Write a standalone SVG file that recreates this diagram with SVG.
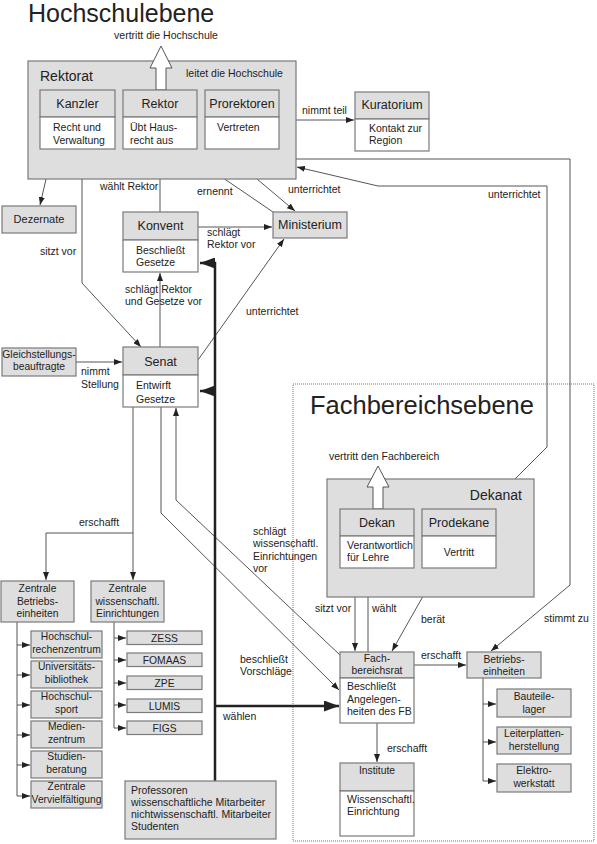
<svg xmlns="http://www.w3.org/2000/svg" width="597" height="844" viewBox="0 0 597 844">
<defs>
<style>
.g{fill:#dedede;stroke:#7a7a7a;stroke-width:1.2}
.w{fill:#fff;stroke:#7a7a7a;stroke-width:1.2}
text{font-family:"Liberation Sans",Arial,sans-serif;fill:#222}
.h{font-size:12.5px;text-anchor:middle}
.b{font-size:10.5px}
.s{font-size:10.3px;text-anchor:middle}
.c{text-anchor:middle}
.ln{fill:none;stroke:#555;stroke-width:1}
.tk{fill:none;stroke:#222;stroke-width:2.5}
.ha{fill:#fff;stroke:#555;stroke-width:1}
</style>
<marker id="a" markerUnits="userSpaceOnUse" markerWidth="8" markerHeight="6" refX="8" refY="3" orient="auto"><path d="M0,0L8,3L0,6z" fill="#222"/></marker>
<marker id="B" markerUnits="userSpaceOnUse" markerWidth="15" markerHeight="11" refX="15" refY="5.5" orient="auto"><path d="M0,0L15,5.5L0,11z" fill="#222"/></marker>
</defs>

<text x="28" y="22" font-size="25">Hochschulebene</text>
<text x="310" y="414" font-size="25.5">Fachbereichsebene</text>
<rect x="293" y="384" width="301" height="457" fill="none" stroke="#777" stroke-width="1" stroke-dasharray="1,1"/>

<g id="connectors">
<path class="ln" d="M296,120H354" marker-end="url(#a)"/>
<path class="ln" d="M53,149L40,205" marker-end="url(#a)"/>
<path class="ln" d="M160,212V150" marker-end="url(#a)"/>
<path class="ln" d="M273,212L182,150" marker-end="url(#a)"/>
<path class="ln" d="M257,179L295,211" marker-end="url(#a)"/>
<path class="ln" d="M82,179V283L141,347" marker-end="url(#a)"/>
<path class="ln" d="M198,227H272" marker-end="url(#a)"/>
<path class="ln" d="M160,347V273" marker-end="url(#a)"/>
<path class="ln" d="M198,360L284,239" marker-end="url(#a)"/>
<path class="ln" d="M76,362H122" marker-end="url(#a)"/>
<path class="ln" d="M133,407V580" marker-end="url(#a)"/>
<path class="ln" d="M133,533H46V580" marker-end="url(#a)"/>
<path class="ln" d="M161,407V513L339,690" marker-end="url(#a)"/>
<path class="ln" d="M340,655L176,500V408" marker-end="url(#a)"/>
<path class="tk" d="M215,781V263H200" marker-end="url(#B)"/>
<path class="tk" d="M215,391H200" marker-end="url(#B)"/>
<path class="tk" d="M215,706H339" marker-end="url(#B)"/>
<path class="ln" d="M515,479L547,447V186H378L297,167" marker-end="url(#a)"/>
<path class="ln" d="M296,159H570V585L491,651" marker-end="url(#a)"/>
<path class="ln" d="M355,568V651" marker-end="url(#a)"/>
<path class="ln" d="M368,652V569" marker-end="url(#a)"/>
<path class="ln" d="M439,568L392,651" marker-end="url(#a)"/>
<path class="ln" d="M414,665H466" marker-end="url(#a)"/>
<path class="ln" d="M377,723V762" marker-end="url(#a)"/>
<path class="ln" d="M483,678V781H496" marker-end="url(#a)"/>
<path class="ln" d="M483,704H496" marker-end="url(#a)"/>
<path class="ln" d="M483,742H496" marker-end="url(#a)"/>
<path class="ln" d="M17,622V796H30" marker-end="url(#a)"/>
<path class="ln" d="M17,645H30" marker-end="url(#a)"/>
<path class="ln" d="M17,675H30" marker-end="url(#a)"/>
<path class="ln" d="M17,705H30" marker-end="url(#a)"/>
<path class="ln" d="M17,735H30" marker-end="url(#a)"/>
<path class="ln" d="M17,765H30" marker-end="url(#a)"/>
<path class="ln" d="M114,622V728H126" marker-end="url(#a)"/>
<path class="ln" d="M114,638H126" marker-end="url(#a)"/>
<path class="ln" d="M114,660H126" marker-end="url(#a)"/>
<path class="ln" d="M114,683H126" marker-end="url(#a)"/>
<path class="ln" d="M114,705H126" marker-end="url(#a)"/>
<g class="b">
<text x="100" y="190">wählt Rektor</text>
<text x="197" y="195">ernennt</text>
<text x="288" y="193">unterrichtet</text>
<text x="40" y="255">sitzt vor</text>
<text x="207" y="236">schlägt</text>
<text x="207" y="248">Rektor vor</text>
<text x="125" y="293">schlägt Rektor</text>
<text x="125" y="305">und Gesetze vor</text>
<text x="246" y="315">unterrichtet</text>
<text x="81" y="375">nimmt</text>
<text x="81" y="388">Stellung</text>
<text x="79" y="526">erschafft</text>
<text x="253" y="535">schlägt</text>
<text x="253" y="547">wissenschaftl.</text>
<text x="253" y="560">Einrichtungen</text>
<text x="253" y="572">vor</text>
<text x="240" y="663">beschließt</text>
<text x="240" y="675">Vorschläge</text>
<text x="223" y="720">wählen</text>
<text x="488" y="198">unterrichtet</text>
<text x="302" y="114">nimmt teil</text>
<text x="315" y="612">sitzt vor</text>
<text x="372" y="612">wählt</text>
<text x="421" y="623">berät</text>
<text x="544" y="622">stimmt zu</text>
<text x="421" y="659">erschafft</text>
<text x="387" y="752">erschafft</text>
</g>
</g>

<g id="rektorat">
<rect class="g" x="28" y="61" width="268" height="118"/>
<text x="40" y="81" font-size="14">Rektorat</text>
<text class="b" x="186" y="77">leitet die Hochschule</text>
<polygon class="ha" points="156,90 156,68 150,68 161,46 172,68 166,68 166,90"/>
<text class="b c" x="166" y="39">vertritt die Hochschule</text>
</g>
<g id="kanzler">
<rect class="g" x="40" y="90" width="75" height="27"/><rect class="w" x="40" y="117" width="75" height="32"/>
<text class="h" x="77.5" y="108">Kanzler</text>
<text class="b" x="53" y="131">Recht und</text><text class="b" x="53" y="144">Verwaltung</text>
</g>
<g id="rektor">
<rect class="g" x="123" y="90" width="74" height="27"/><rect class="w" x="123" y="117" width="74" height="32"/>
<text class="h" x="160" y="108">Rektor</text>
<text class="b" x="130" y="131">Übt Haus-</text><text class="b" x="130" y="144">recht aus</text>
</g>
<g id="prorektoren">
<rect class="g" x="205" y="90" width="74" height="27"/><rect class="w" x="205" y="117" width="74" height="32"/>
<text class="h" x="242" y="108">Prorektoren</text>
<text class="b" x="217" y="131">Vertreten</text>
</g>
<g id="kuratorium">
<rect class="g" x="355" y="92" width="74" height="27"/><rect class="w" x="355" y="119" width="74" height="32"/>
<text class="h" x="392" y="109">Kuratorium</text>
<text class="b" x="369" y="132">Kontakt zur</text><text class="b" x="369" y="144">Region</text>
</g>
<g id="dezernate">
<rect class="g" x="2" y="206" width="74" height="27"/>
<text class="c" x="39" y="223" font-size="11">Dezernate</text>
</g>
<g id="konvent">
<rect class="g" x="123" y="212" width="75" height="28"/><rect class="w" x="123" y="240" width="75" height="32"/>
<text class="h" x="160.5" y="230">Konvent</text>
<text class="b" x="136" y="254">Beschließt</text><text class="b" x="136" y="266">Gesetze</text>
</g>
<g id="ministerium">
<rect class="g" x="273" y="212" width="74" height="26"/>
<text class="h" x="310" y="229">Ministerium</text>
</g>
<g id="senat">
<rect class="g" x="123" y="347" width="75" height="28"/><rect class="w" x="123" y="375" width="75" height="32"/>
<text class="h" x="160.5" y="366">Senat</text>
<text class="b" x="136" y="389">Entwirft</text><text class="b" x="136" y="403">Gesetze</text>
</g>
<g id="gleichstellung">
<rect class="g" x="2" y="348" width="74" height="28"/>
<text class="s" x="39" y="358">Gleichstellungs-</text><text class="s" x="39" y="370">beauftragte</text>
</g>
<g id="zbe">
<rect class="g" x="1" y="581" width="73" height="41"/>
<text class="s" x="37.5" y="592">Zentrale</text><text class="s" x="37.5" y="605">Betriebs-</text><text class="s" x="37.5" y="617">einheiten</text>
</g>
<g id="zwe">
<rect class="g" x="91" y="581" width="73" height="41"/>
<text class="s" x="127.5" y="592">Zentrale</text><text class="s" x="127.5" y="605">wissenschaftl.</text><text class="s" x="127.5" y="617">Einrichtungen</text>
</g>
<g id="hrz"><rect class="g" x="31" y="631" width="71" height="27"/><text class="s" x="66.5" y="640">Hochschul-</text><text class="s" x="66.5" y="653">rechenzentrum</text></g>
<g id="ub"><rect class="g" x="31" y="661" width="71" height="27"/><text class="s" x="66.5" y="670">Universitäts-</text><text class="s" x="66.5" y="683">bibliothek</text></g>
<g id="hsport"><rect class="g" x="31" y="691" width="71" height="27"/><text class="s" x="66.5" y="700">Hochschul-</text><text class="s" x="66.5" y="713">sport</text></g>
<g id="medien"><rect class="g" x="31" y="721" width="71" height="27"/><text class="s" x="66.5" y="730">Medien-</text><text class="s" x="66.5" y="743">zentrum</text></g>
<g id="studien"><rect class="g" x="31" y="751" width="71" height="27"/><text class="s" x="66.5" y="760">Studien-</text><text class="s" x="66.5" y="773">beratung</text></g>
<g id="zv"><rect class="g" x="31" y="781" width="71" height="27"/><text class="s" x="66.5" y="790">Zentrale</text><text class="s" x="66.5" y="803" font-size="10px">Vervielfältigung</text></g>
<g id="zess"><rect class="g" x="127" y="631" width="75" height="13.5"/><text class="s" x="164.5" y="642">ZESS</text></g>
<g id="fomaas"><rect class="g" x="127" y="653" width="75" height="13.5"/><text class="s" x="164.5" y="664">FOMAAS</text></g>
<g id="zpe"><rect class="g" x="127" y="676" width="75" height="13.5"/><text class="s" x="164.5" y="687">ZPE</text></g>
<g id="lumis"><rect class="g" x="127" y="699" width="75" height="13.5"/><text class="s" x="164.5" y="710">LUMIS</text></g>
<g id="figs"><rect class="g" x="127" y="721" width="75" height="13.5"/><text class="s" x="164.5" y="732">FIGS</text></g>
<g id="professoren">
<rect class="g" x="125" y="781" width="151" height="58"/>
<text class="b" x="131" y="794">Professoren</text>
<text class="b" x="131" y="806">wissenschaftliche Mitarbeiter</text>
<text class="b" x="131" y="818">nichtwissenschaftl. Mitarbeiter</text>
<text class="b" x="131" y="830">Studenten</text>
</g>

<g id="dekanat">
<rect class="g" x="327" y="479" width="207" height="118"/>
<text x="522" y="500" font-size="14" text-anchor="end">Dekanat</text>
<polygon class="ha" points="373,509 373,487 367,487 378,466 389,487 383,487 383,509"/>
<text class="b" x="329" y="460">vertritt den Fachbereich</text>
</g>
<g id="dekan">
<rect class="g" x="340" y="509" width="74" height="27"/><rect class="w" x="340" y="536" width="74" height="32"/>
<text class="h" x="377" y="527">Dekan</text>
<text class="b" x="347" y="549">Verantwortlich</text><text class="b" x="347" y="561">für Lehre</text>
</g>
<g id="prodekane">
<rect class="g" x="422" y="509" width="74" height="27"/><rect class="w" x="422" y="536" width="74" height="32"/>
<text class="h" x="459" y="527">Prodekane</text>
<text class="b c" x="459" y="556">Vertritt</text>
</g>
<g id="fachbereichsrat">
<rect class="g" x="340" y="652" width="74" height="26"/><rect class="w" x="340" y="678" width="74" height="45"/>
<text class="s" x="377" y="662">Fach-</text><text class="s" x="377" y="674">bereichsrat</text>
<text class="b" x="347" y="690">Beschließt</text><text class="b" x="347" y="703">Angelegen-</text><text class="b" x="347" y="715">heiten des FB</text>
</g>
<g id="betriebseinheiten">
<rect class="g" x="467" y="652" width="74" height="26"/>
<text class="s" x="504" y="663">Betriebs-</text><text class="s" x="504" y="675">einheiten</text>
</g>
<g id="bauteile"><rect class="g" x="497" y="689" width="74" height="28"/><text class="s" x="534" y="700">Bauteile-</text><text class="s" x="534" y="713">lager</text></g>
<g id="leiterplatten"><rect class="g" x="497" y="727" width="74" height="27"/><text class="s" x="534" y="737">Leiterplatten-</text><text class="s" x="534" y="750">herstellung</text></g>
<g id="elektro"><rect class="g" x="497" y="764" width="74" height="28"/><text class="s" x="534" y="774">Elektro-</text><text class="s" x="534" y="787">werkstatt</text></g>
<g id="institute">
<rect class="g" x="340" y="763" width="74" height="28"/><rect class="w" x="340" y="791" width="74" height="45"/>
<text class="s" x="377" y="774">Institute</text>
<text class="b" x="347" y="803">Wissenschaftl.</text><text class="b" x="347" y="815">Einrichtung</text>
</g>
</svg>
